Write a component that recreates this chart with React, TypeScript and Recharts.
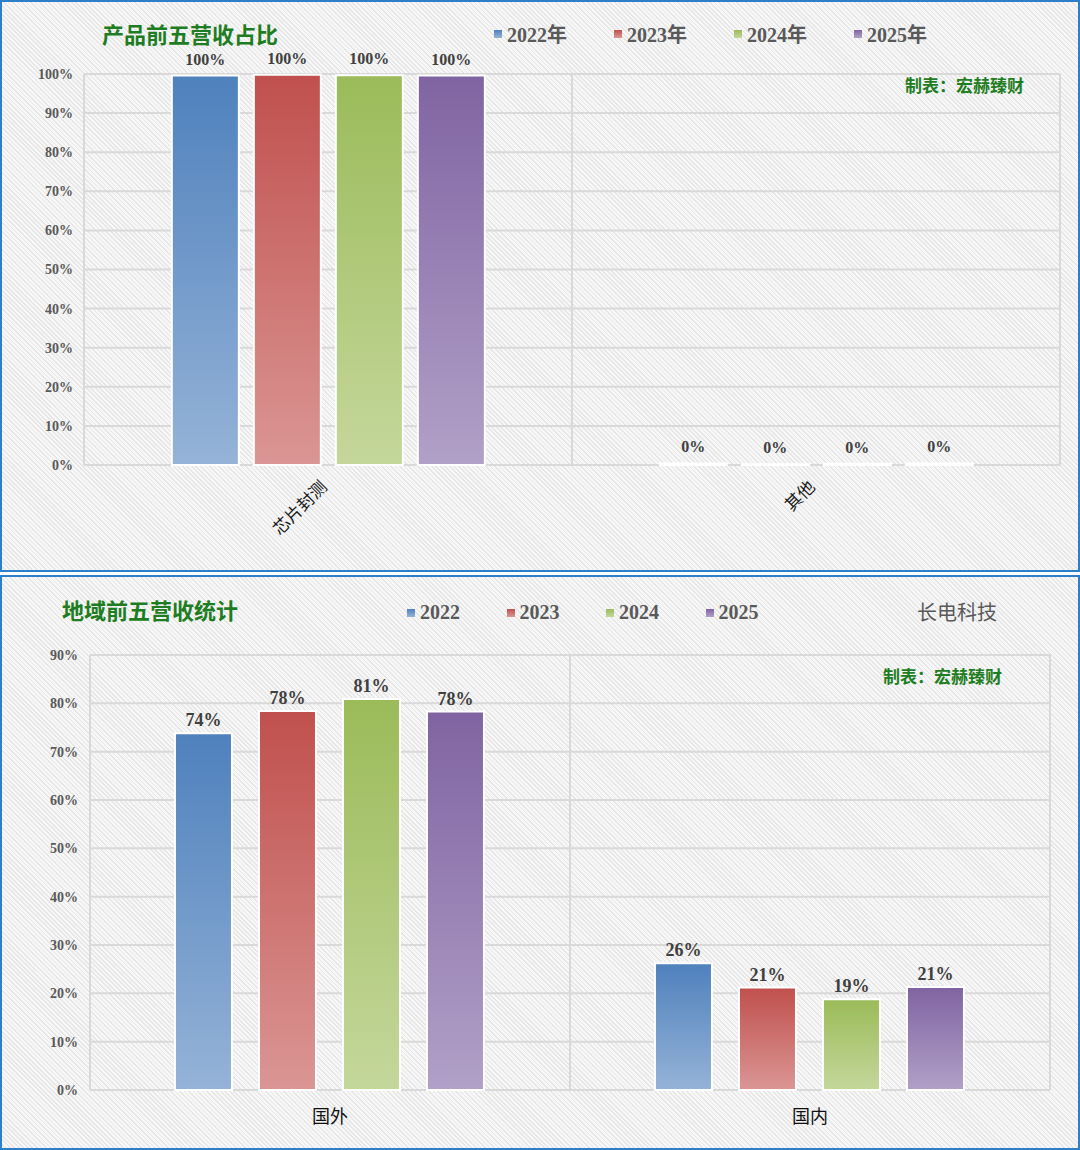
import React from "react";
import {
  BarChart,
  Bar,
  XAxis,
  YAxis,
  CartesianGrid,
  LabelList,
} from "recharts";

// 产品前五营收占比
const productCategories = ["芯片封测", "其他"];
const product2022 = [99.6, 0.4];
const product2023 = [99.8, 0.2];
const product2024 = [99.7, 0.3];
const product2025 = [99.6, 0.4];
const productTicks = [0, 10, 20, 30, 40, 50, 60, 70, 80, 90, 100];

// 地域前五营收统计
const regionCategories = ["国外", "国内"];
const region2022 = [73.8, 26.2];
const region2023 = [78.4, 21.2];
const region2024 = [80.9, 18.8];
const region2025 = [78.3, 21.3];
const regionTicks = [0, 10, 20, 30, 40, 50, 60, 70, 80, 90];

const yearKeys = ["y2022", "y2023", "y2024", "y2025"];
const yearNames = ["2022", "2023", "2024", "2025"];

const GRADS = [
  { id: "gBlue", top: "#4f81bd", bottom: "#95b3d7" },
  { id: "gRed", top: "#c0504d", bottom: "#da9694" },
  { id: "gGreen", top: "#9bbb59", bottom: "#c4d79b" },
  { id: "gPurple", top: "#8064a2", bottom: "#b1a0c7" },
];

const FONT = '"Liberation Serif", "Noto Sans CJK SC", serif';
const GREEN = "#1e7d22";
const GRAY = "#595959";

const productData = productCategories.map((name, i) => ({
  name,
  y2022: product2022[i],
  y2023: product2023[i],
  y2024: product2024[i],
  y2025: product2025[i],
}));

const regionData = regionCategories.map((name, i) => ({
  name,
  y2022: region2022[i],
  y2023: region2023[i],
  y2024: region2024[i],
  y2025: region2025[i],
}));

const hatch =
  "repeating-linear-gradient(45deg, #f7f7f7 0px, #f7f7f7 2px, #e6e6e6 2px, #e6e6e6 3.2px)";

const panelStyle = (top: number, height: number): React.CSSProperties => ({
  position: "absolute",
  left: 0,
  top,
  width: 1080,
  height,
  boxSizing: "border-box",
  border: "2px solid #2e7fc9",
  background: hatch,
  fontFamily: FONT,
});

const boundaryGrid = ({ offset }: any) => [
  offset.left,
  offset.left + offset.width / 2,
  offset.left + offset.width,
];

function GradDefs() {
  return (
    <defs>
      {GRADS.map((g) => (
        <linearGradient key={g.id} id={g.id} x1="0" y1="0" x2="0" y2="1">
          <stop offset="0%" stopColor={g.top} />
          <stop offset="100%" stopColor={g.bottom} />
        </linearGradient>
      ))}
    </defs>
  );
}

function YearLegend({ suffix, itemWidth, left, top }: any) {
  return (
    <div style={{ position: "absolute", left, top, display: "flex", zIndex: 2 }}>
      {yearNames.map((y, i) => (
        <div
          key={y}
          style={{
            width: itemWidth,
            display: "flex",
            alignItems: "center",
            color: GRAY,
            fontWeight: "bold",
            fontSize: 20,
          }}
        >
          <span
            style={{
              display: "inline-block",
              width: 8,
              height: 8,
              marginRight: 5,
              background: `linear-gradient(${GRADS[i].top}, ${GRADS[i].bottom})`,
            }}
          />
          {y + suffix}
        </div>
      ))}
    </div>
  );
}

const RotatedTick = ({ x, y, payload }: any) => (
  <text
    x={x}
    y={y + 15}
    transform={`rotate(-45, ${x}, ${y + 15})`}
    textAnchor="end"
    fontSize={17}
    fill="#1a1a1a"
    fontFamily={FONT}
  >
    {payload.value}
  </text>
);

const pct = (v: any) => `${Math.round(Number(v))}%`;

function ProductChart() {
  return (
    <div style={panelStyle(0, 572)}>
      <div
        style={{
          position: "absolute",
          left: 100,
          top: 15,
          fontSize: 22,
          fontWeight: "bold",
          color: GREEN,
        }}
      >
        产品前五营收占比
      </div>
      <YearLegend suffix="年" itemWidth={120} left={492} top={17} />
      <div
        style={{
          position: "absolute",
          left: 903,
          top: 70,
          fontSize: 17,
          fontWeight: "bold",
          color: GREEN,
          zIndex: 2,
        }}
      >
        制表：宏赫臻财
      </div>
      <BarChart
        width={1076}
        height={568}
        data={productData}
        margin={{ top: 72, right: 18, bottom: 45, left: 0 }}
        barCategoryGap="18%"
        barGap={15}
      >
        <GradDefs />
        <CartesianGrid
          stroke="#d9d9d9"
          strokeWidth={2}
          verticalCoordinatesGenerator={boundaryGrid}
        />
        <XAxis
          dataKey="name"
          axisLine={false}
          tickLine={false}
          height={60}
          interval={0}
          tick={<RotatedTick />}
        />
        <YAxis
          width={82}
          domain={[0, 100]}
          ticks={productTicks}
          axisLine={false}
          tickLine={false}
          tickMargin={5}
          tickFormatter={(v) => `${v}%`}
          tick={{ fontSize: 14, fontWeight: "bold", fill: GRAY, fontFamily: FONT }}
        />
        {yearKeys.map((k, i) => (
          <Bar
            key={k}
            dataKey={k}
            name={yearNames[i] + "年"}
            fill={`url(#${GRADS[i].id})`}
            stroke="#ffffff"
            strokeWidth={2}
            isAnimationActive={false}
          >
            <LabelList
              dataKey={k}
              position="top"
              offset={11}
              formatter={pct}
              style={{ fontSize: 16, fontWeight: "bold", fill: "#404040", fontFamily: FONT }}
            />
          </Bar>
        ))}
      </BarChart>
    </div>
  );
}

function RegionChart() {
  return (
    <div style={panelStyle(575, 575)}>
      <div
        style={{
          position: "absolute",
          left: 60,
          top: 16,
          fontSize: 22,
          fontWeight: "bold",
          color: GREEN,
        }}
      >
        地域前五营收统计
      </div>
      <YearLegend suffix="" itemWidth={99.5} left={405} top={24} />
      <div
        style={{
          position: "absolute",
          left: 915,
          top: 20,
          fontSize: 20,
          color: GRAY,
        }}
      >
        长电科技
      </div>
      <div
        style={{
          position: "absolute",
          left: 881,
          top: 86,
          fontSize: 17,
          fontWeight: "bold",
          color: GREEN,
          zIndex: 2,
        }}
      >
        制表：宏赫臻财
      </div>
      <BarChart
        width={1076}
        height={571}
        data={regionData}
        margin={{ top: 78, right: 28, bottom: 18, left: 0 }}
        barCategoryGap="17.7%"
        barGap={27}
      >
        <GradDefs />
        <CartesianGrid
          stroke="#d9d9d9"
          strokeWidth={2}
          verticalCoordinatesGenerator={boundaryGrid}
        />
        <XAxis
          dataKey="name"
          axisLine={false}
          tickLine={false}
          height={40}
          interval={0}
          tickMargin={14}
          tick={{ fontSize: 18, fill: "#111111", fontFamily: FONT }}
        />
        <YAxis
          width={88}
          domain={[0, 90]}
          ticks={regionTicks}
          axisLine={false}
          tickLine={false}
          tickMargin={6}
          tickFormatter={(v) => `${v}%`}
          tick={{ fontSize: 14, fontWeight: "bold", fill: GRAY, fontFamily: FONT }}
        />
        {yearKeys.map((k, i) => (
          <Bar
            key={k}
            dataKey={k}
            name={yearNames[i]}
            fill={`url(#${GRADS[i].id})`}
            stroke="#ffffff"
            strokeWidth={2}
            isAnimationActive={false}
          >
            <LabelList
              dataKey={k}
              position="top"
              offset={7}
              formatter={pct}
              style={{ fontSize: 18, fontWeight: "bold", fill: "#404040", fontFamily: FONT }}
            />
          </Bar>
        ))}
      </BarChart>
    </div>
  );
}

export default function App() {
  return (
    <div style={{ position: "absolute", left: 0, top: 0, width: 1080, height: 1150 }}>
      <ProductChart />
      <RegionChart />
    </div>
  );
}
